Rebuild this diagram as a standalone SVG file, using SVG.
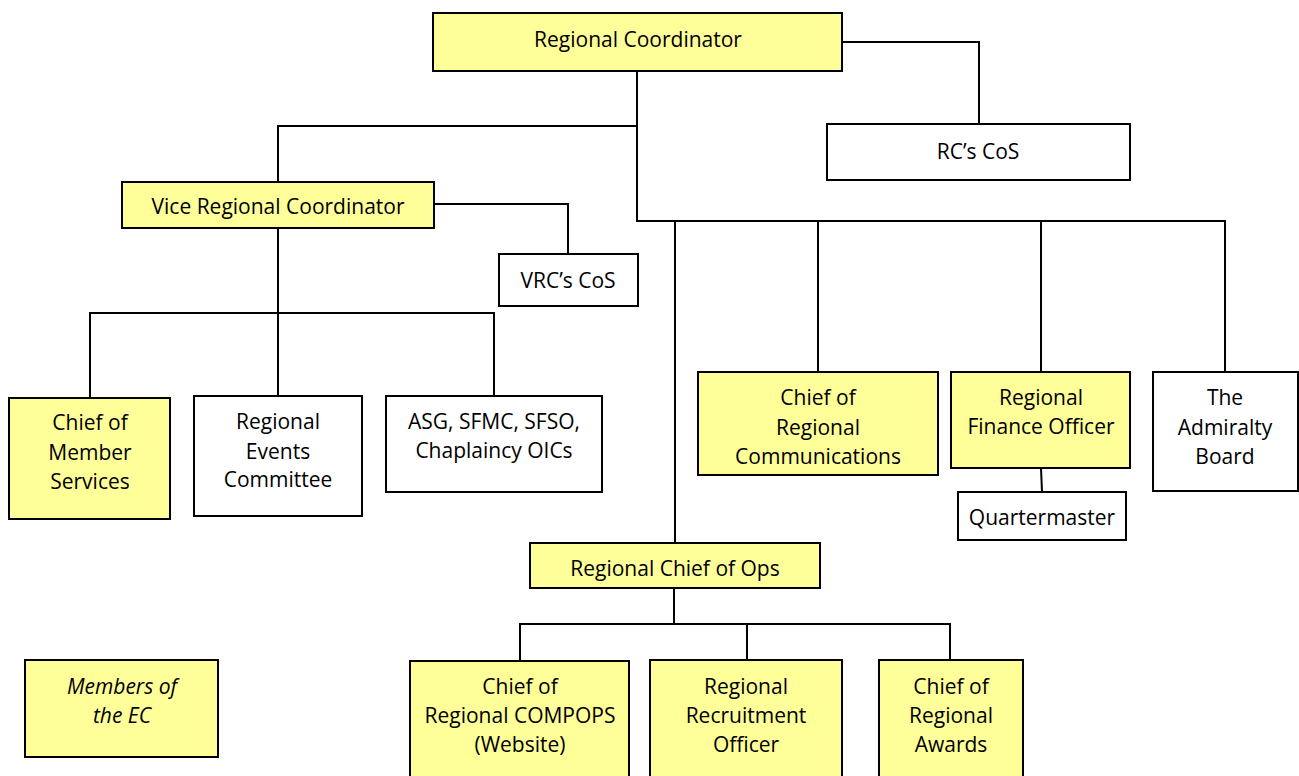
<svg xmlns="http://www.w3.org/2000/svg" width="1299" height="776" viewBox="0 0 1299 776">
<style>
.y{fill:#FFFF99;stroke:#000;stroke-width:2}
.w{fill:#FFFFFF;stroke:#000;stroke-width:2}
.c{fill:none;stroke:#000;stroke-width:2}
text{font-family:"Open Sans","Liberation Sans",sans-serif;font-size:21px;fill:#000;text-anchor:middle}
.i{font-style:italic}
</style>
<rect width="1299" height="776" fill="#FFFFFF"/>
<g id="connectors">
<path class="c" d="M842 42 H979 V124"/>
<path class="c" d="M637 71 V222"/>
<path class="c" d="M637 126 H278 V182"/>
<path class="c" d="M637 221 H1225 V372"/>
<path class="c" d="M675 221 V543"/>
<path class="c" d="M818 221 V372"/>
<path class="c" d="M1041 221 V372"/>
<path class="c" d="M434 204 H568 V254"/>
<path class="c" d="M278 228 V313"/>
<path class="c" d="M90 398 V313 H494 V396"/>
<path class="c" d="M278 313 V396"/>
<path class="c" d="M1041 468 L1042 492"/>
<path class="c" d="M674 588 V624"/>
<path class="c" d="M520 661 V624 H950 V660"/>
<path class="c" d="M747 624 V660"/>
</g>
<g id="rc"><rect class="y" x="433" y="13" width="409" height="58"/><text x="638" y="47">Regional Coordinator</text></g>
<g id="rccos"><rect class="w" x="827" y="124" width="303" height="56"/><text x="978" y="159">RC’s CoS</text></g>
<g id="vrc"><rect class="y" x="122" y="182" width="312" height="46"/><text x="278" y="214">Vice Regional Coordinator</text></g>
<g id="vrccos"><rect class="w" x="499" y="254" width="139" height="52"/><text x="568" y="288">VRC’s CoS</text></g>
<g id="cms"><rect class="y" x="9" y="398" width="161" height="121"/><text x="90" y="430">Chief of</text><text x="90" y="460">Member</text><text x="90" y="489">Services</text></g>
<g id="rec"><rect class="w" x="194" y="396" width="168" height="120"/><text x="278" y="429">Regional</text><text x="278" y="459">Events</text><text x="278" y="487">Committee</text></g>
<g id="asg"><rect class="w" x="386" y="396" width="216" height="96"/><text x="494" y="429">ASG, SFMC, SFSO,</text><text x="494" y="458">Chaplaincy OICs</text></g>
<g id="crc"><rect class="y" x="698" y="372" width="240" height="103"/><text x="818" y="405">Chief of</text><text x="818" y="435">Regional</text><text x="818" y="464">Communications</text></g>
<g id="rfo"><rect class="y" x="951" y="372" width="179" height="96"/><text x="1041" y="405">Regional</text><text x="1041" y="434">Finance Officer</text></g>
<g id="qm"><rect class="w" x="958" y="492" width="168" height="48"/><text x="1042" y="525">Quartermaster</text></g>
<g id="adm"><rect class="w" x="1153" y="372" width="145" height="119"/><text x="1225" y="405">The</text><text x="1225" y="435">Admiralty</text><text x="1225" y="464">Board</text></g>
<g id="rcops"><rect class="y" x="530" y="543" width="290" height="45"/><text x="675" y="576">Regional Chief of Ops</text></g>
<g id="ec"><rect class="y" x="25" y="660" width="193" height="97"/><text class="i" x="122" y="694">Members of</text><text class="i" x="122" y="723">the EC</text></g>
<g id="compops"><rect class="y" x="410" y="661" width="219" height="120"/><text x="520" y="694">Chief of</text><text x="520" y="723">Regional COMPOPS</text><text x="520" y="752">(Website)</text></g>
<g id="rro"><rect class="y" x="650" y="660" width="192" height="121"/><text x="746" y="694">Regional</text><text x="746" y="723">Recruitment</text><text x="746" y="752">Officer</text></g>
<g id="awards"><rect class="y" x="879" y="660" width="144" height="121"/><text x="951" y="694">Chief of</text><text x="951" y="723">Regional</text><text x="951" y="752">Awards</text></g>
</svg>
